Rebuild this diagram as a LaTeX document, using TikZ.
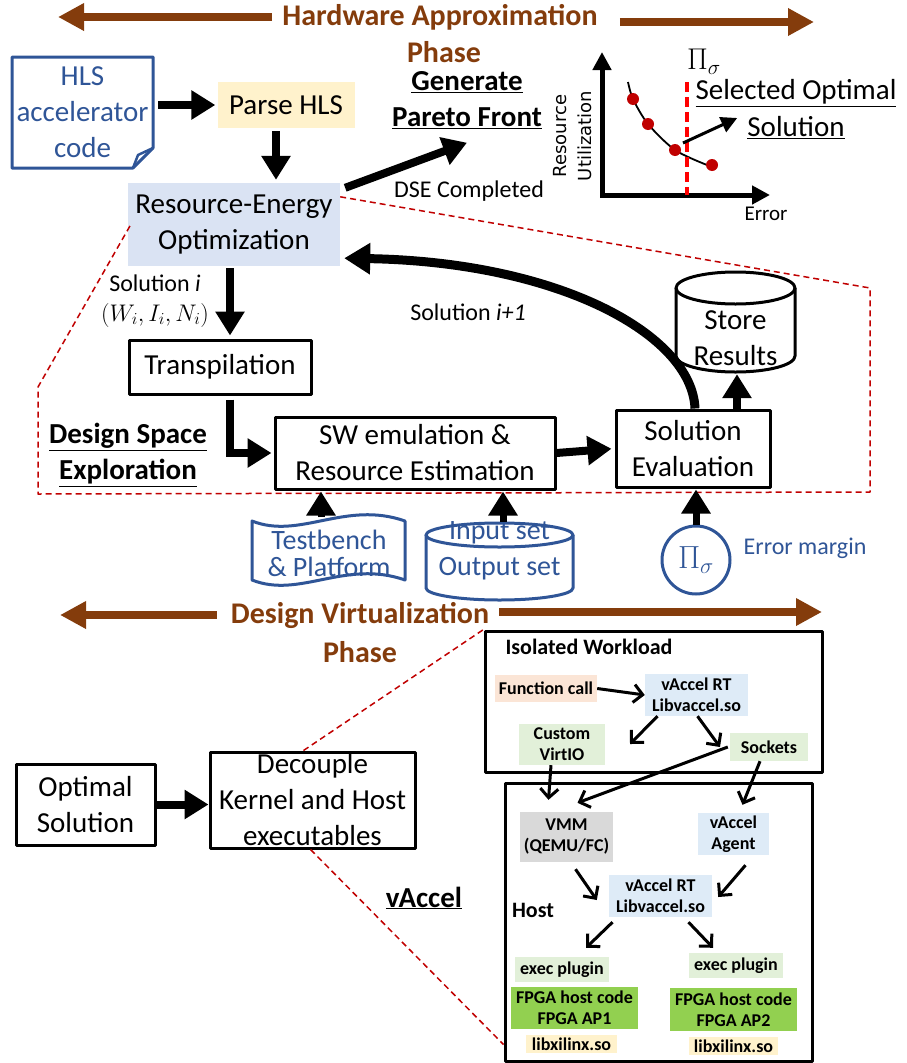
\RequirePackage{fix-cm}
\documentclass[tikz,border=0pt]{standalone}
\usepackage{fontspec}
\setmainfont{Carlito}
\newfontfamily\dejavu{DejaVu Sans}
\usetikzlibrary{arrows.meta}
\definecolor{brn}{HTML}{843C0C}
\definecolor{dkblue}{HTML}{2F5597}
\definecolor{dred}{HTML}{C00000}
\definecolor{pyellow}{HTML}{FFF2CC}
\definecolor{pblue}{HTML}{DAE3F3}
\definecolor{lblue}{HTML}{DEEBF7}
\definecolor{lgreen}{HTML}{E2F0D9}
\definecolor{peach}{HTML}{FBE5D6}
\definecolor{lgray}{HTML}{D9D9D9}
\definecolor{fgreen}{HTML}{92D050}
\newcommand{\fsz}[2]{\fontsize{#1}{#2}\selectfont}
\begin{document}
\begin{tikzpicture}[x=1pt,y=-1pt,line join=round,
 txt/.style={font=\fsz{29}{36},align=center,inner sep=0pt},
 box/.style={txt,draw,line width=3pt},
 lbl/.style={font=\fsz{24}{28},align=center,inner sep=0pt},
 ttl/.style={font=\bfseries\fsz{29}{36},align=center,inner sep=0pt},
 phase/.style={font=\bfseries\fsz{30}{36},text=brn,inner sep=0pt},
 tagbox/.style={font=\bfseries\fsz{18}{21},align=center,inner sep=0pt},
 blk/.style={line width=8pt,-{Triangle[length=24pt,width=28pt]}},
 thinarr/.style={line width=3pt,-{Straight Barb[length=9pt,width=18pt]}},
 brnarrow/.style={draw=brn,line width=8pt,-{Triangle[length=26pt,width=26pt]}},
 zoomline/.style={draw=dred,line width=1.5pt,dash pattern=on 6pt off 4pt}]
 \useasboundingbox (0,0) rectangle (906,1063);
 \def\cylrx{59.5pt}
 % phases
 \node[phase] (hwa) at (440,17) {Hardware Approximation};
 \node[phase] (hwp) at (444,52) {Phase};
 \coordinate (hwl) at (58,17); \coordinate (hwr) at (814,22);
 \draw[brnarrow] ([xshift=-10pt]hwa.west) -- (hwl);
 \draw[brnarrow] ([xshift=22pt,yshift=-5pt]hwa.east) -- (hwr);
 \node[phase] (dvt) at (360,615) {Design Virtualization};
 \node[phase] (dvp) at (360,652) {Phase};
 \coordinate (dvl) at (60,615); \coordinate (dvr) at (822,612);
 \draw[brnarrow] ([xshift=-14pt]dvt.west) -- (dvl);
 \draw[brnarrow] ([xshift=10pt,yshift=3pt]dvt.east) -- (dvr);
 % hardware approximation flow
 \draw[dkblue,line width=3pt] (12,57) -- (153,57) -- (153,148) -- (133,168) -- (12,168) -- cycle;
 \draw[dkblue,line width=2.5pt] (153,148) -- (138,155) -- (133,168);
 \node[txt,text=dkblue,minimum width=141pt,minimum height=111pt] (hls) at (82.5,112) {HLS\\accelerator\\code};
 \node[txt,fill=pyellow,minimum width=137pt,minimum height=46pt] (parse) at (286,105) {Parse HLS};
 \node[txt,fill=pblue,minimum width=212pt,minimum height=83pt] (reo) at (234,224.5) {Resource-Energy\\Optimization};
 \draw[blk,shorten <=5pt,shorten >=2pt] (hls.east |- parse.west) -- (parse.west);
 \coordinate (a0) at ([xshift=-10pt,yshift=-3pt]parse.south);
 \draw[blk,shorten >=3pt] (a0) -- (a0 |- reo.north);
 \node[ttl] (gen) at (467,82) {\underline{Generate}};
 \node[ttl] (par) at (467,118) {\underline{Pareto Front}};
 \draw[blk] ([xshift=5pt,yshift=-5pt]reo.north east) -- ([yshift=-14pt]par.south);
 \node[lbl] (dse) at (469,191) {DSE Completed};
 % pareto plot
 \coordinate (org) at (602,195); \coordinate (xt) at (770,195); \coordinate (yt) at (602,52);
 \draw[line width=5pt,{Triangle[length=18pt,width=18pt]}-{Triangle[length=18pt,width=18pt]},line join=miter] (yt) -- (org) -- (xt);
 \draw[line width=1.8pt] plot[smooth] coordinates {(628,82) (633,99) (648,124) (675,150) (707,165)};
 \coordinate (sel) at (675,150);
 \foreach \p in {(633,99),(648,124),(675,150),(712,165)} \fill[dred] \p circle (6pt);
 \draw[red,line width=4pt,dash pattern=on 10pt off 5pt] (687,82) -- (687,195);
 \node[inner sep=0pt] (pitop) at (704,62) {\fsz{30}{34}$\Pi_\sigma$};
 \node[rotate=90,font=\dejavu\fsz{18}{25},align=center,inner sep=0pt] (ylab) at (573,136) {Resource\\Utilization};
 \node[font=\fsz{21}{25},inner sep=0pt] (xlab) at (766,214) {Error};
 \node[txt] (sel1) at (796,93) {\underline{Selected Optimal}};
 \node[txt] (sel2) at (796,128) {\underline{Solution}};
 \draw[line width=3pt,-{Triangle[length=16pt,width=16pt]}] ([shift={(8,-7)}]sel) -- ([shift={(-10,-10)}]sel2.west);
 % design space exploration
 \draw[zoomline] ([yshift=-14pt]reo.north east) -- (870,288) -- (870,492) -- (38,494) -- (38,387) -- ([xshift=3pt]reo.west);
 \node[lbl] (soli) at (155,283) {Solution \textit{i}};
 \node[lbl] (wi) at (155,315) {$(W_i,I_i,N_i)$};
 \node[box,minimum width=182pt,minimum height=54pt] (trans) at (220,367) {Transpilation};
 \node[box,minimum width=280pt,minimum height=72pt] (sw) at (415,453) {SW emulation \&\\Resource Estimation};
 \node[box,minimum width=154pt,minimum height=77pt] (eval) at (693,448.5) {Solution\\Evaluation};
 \draw[line width=3pt,fill=white] (676,288) -- (676,356) arc[start angle=180,end angle=360,x radius=\cylrx,y radius=16pt] -- (795,288);
 \draw[line width=3pt] (735.5,288) ellipse [x radius=\cylrx,y radius=16pt];
 \node[txt,minimum width=119pt,minimum height=68pt] (store) at (735.5,338) {Store\\Results};
 \coordinate (a1) at ([xshift=-4pt]reo.south);
 \draw[blk,shorten <=2pt,shorten >=3pt] (a1) -- (a1 |- trans.north);
 \coordinate (a2) at ([xshift=10pt]trans.south);
 \draw[blk,line join=miter,shorten <=4pt,shorten >=2pt] (a2) |- (sw.west);
 \draw[blk,shorten >=3pt] (sw.east) -- (eval.west);
 \coordinate (a3) at ([xshift=44pt]eval.north);
 \draw[blk,shorten >=2pt] (a3) -- (a3 |- store.south);
 \draw[line width=9pt,-{Triangle[length=26pt,width=30pt]}] ([xshift=2pt]eval.north) .. controls (692,335) and (560,262) .. ([shift={(4,-8)}]reo.south east);
 \node[lbl] (soln) at (468,312) {Solution \textit{i+1}};
 \node[ttl] (dsx) at (128,455) {\underline{Design Space}\\\underline{Exploration}};
 \draw[dkblue,line width=3pt,fill=white] (252,521) .. controls (300,540) and (345,500) .. (405,521) -- (405,580) .. controls (345,559) and (300,599) .. (252,580) -- cycle;
 \node[txt,text=dkblue,font=\fsz{28}{27},minimum width=153pt,minimum height=71pt] (tb) at (329,553) {Testbench\\\& Platform};
 \draw[dkblue,line width=3pt,fill=white] (426,535) -- (426,588) arc[start angle=180,end angle=360,x radius=73.5pt,y radius=12pt] -- (573,535);
 \draw[dkblue,line width=3pt] (499.5,535) ellipse [x radius=73.5pt,y radius=12pt];
 \node[txt,text=dkblue,font=\fsz{28}{36},minimum width=147pt,minimum height=56pt] (io) at (499.5,551) {Input set\\Output set};
 \coordinate (a4) at ([xshift=-8pt]tb.north);
 \draw[blk,line width=7pt,shorten >=1pt] (a4) -- (a4 |- sw.south);
 \coordinate (a5) at ([xshift=3.5pt]io.north);
 \draw[blk,line width=7pt,shorten >=1pt] (a5) -- (a5 |- sw.south);
 \node[circle,draw=dkblue,line width=3pt,minimum size=68pt,inner sep=0pt,text=dkblue] (pis) at (696,560) {\fsz{32}{36}$\Pi_\sigma$};
 \draw[blk,line width=7pt,shorten >=1pt] (pis.north) -- (pis.north |- eval.south);
 \node[lbl,text=dkblue] (errm) at (805,548) {Error margin};
 % design virtualization
 \node[box,minimum width=139pt,minimum height=81pt] (opt) at (85.5,804.5) {Optimal\\Solution};
 \node[box,minimum width=205pt,minimum height=96pt] (dec) at (312.5,800) {Decouple\\Kernel and Host\\executables};
 \draw[blk] (opt.east) -- (opt.east -| dec.west);
 \node[ttl] (vac) at (424,898) {\underline{vAccel}};
 \node[draw,line width=3pt,minimum width=337pt,minimum height=141pt] (iso) at (653.5,701.5) {};
 \node[draw,line width=3pt,minimum width=307pt,minimum height=278pt] (host) at (658.5,922) {};
 \draw[zoomline] ([xshift=-9pt]dec.north) -- (iso.north west);
 \draw[zoomline] ([xshift=-2pt]dec.south) -- ([yshift=18pt]host.south west);
 \node[font=\bfseries\fsz{22}{26},inner sep=0pt] (isot) at (589,647) {Isolated Workload};
 \node[font=\bfseries\fsz{22}{26},inner sep=0pt] (hostt) at (533,910) {Host};
 \node[tagbox,fill=peach,minimum width=102pt,minimum height=27pt] (fc) at (546,688.5) {Function call};
 \node[tagbox,fill=lblue,minimum width=103pt,minimum height=42pt] (rt1) at (696.5,695) {vAccel RT\\Libvaccel.so};
 \node[tagbox,fill=lgreen,minimum width=86pt,minimum height=41pt] (vio) at (562,744.5) {Custom\\VirtIO};
 \node[tagbox,fill=lgreen,minimum width=78pt,minimum height=28pt] (sock) at (769,747) {Sockets};
 \node[tagbox,fill=lgray,minimum width=93pt,minimum height=50pt] (vmm) at (566.5,837) {VMM\\(QEMU/FC)};
 \node[tagbox,fill=lblue,minimum width=71pt,minimum height=42pt] (agent) at (733.5,834) {vAccel\\Agent};
 \node[tagbox,fill=lblue,minimum width=103pt,minimum height=42pt] (rt2) at (660.5,896) {vAccel RT\\Libvaccel.so};
 \node[tagbox,fill=lgreen,minimum width=94pt,minimum height=25pt] (ex1) at (562,969.5) {exec plugin};
 \node[tagbox,fill=lgreen,minimum width=94pt,minimum height=25pt] (ex2) at (736,965.5) {exec plugin};
 \node[tagbox,fill=fgreen,minimum width=127pt,minimum height=42pt] (fp1) at (574.5,1008) {FPGA host code\\FPGA AP1};
 \node[tagbox,fill=fgreen,minimum width=127pt,minimum height=43pt] (fp2) at (733.5,1009.5) {FPGA host code\\FPGA AP2};
 \node[tagbox,fill=pyellow,minimum width=91pt,minimum height=18pt] (lx1) at (571.5,1044) {libxilinx.so};
 \node[tagbox,fill=pyellow,minimum width=89pt,minimum height=18pt] (lx2) at (733.5,1046) {libxilinx.so};
 \coordinate (v1) at (630,744); \coordinate (s1) at (720,747);
 \draw[thinarr] (fc.east) -- (rt1.west);
 \draw[thinarr] ([xshift=-39pt]rt1.south) -- (v1);
 \draw[thinarr] ([xshift=1pt]rt1.south) -- (s1);
 \draw[thinarr] ([xshift=-11pt]vio.south) -- ([xshift=-18pt,yshift=12pt]vmm.north);
 \draw[thinarr] ([xshift=-2pt]sock.west) -- ([xshift=11pt,yshift=9pt]vmm.north);
 \draw[thinarr] ([xshift=-9pt]sock.south) -- ([xshift=9pt,yshift=8pt]agent.north);
 \draw[thinarr] ([xshift=9pt,yshift=-7pt]vmm.south) -- ([xshift=-12pt,yshift=-4pt]rt2.west);
 \draw[thinarr] ([xshift=12pt,yshift=-10pt]agent.south) -- ([xshift=6pt,yshift=-1pt]rt2.east);
 \draw[thinarr] ([xshift=-48pt,yshift=-5pt]rt2.south) -- ([xshift=24pt,yshift=9pt]ex1.north);
 \draw[thinarr] ([xshift=28pt,yshift=-5pt]rt2.south) -- ([xshift=-23pt,yshift=5pt]ex2.north);
\end{tikzpicture}
\end{document}
